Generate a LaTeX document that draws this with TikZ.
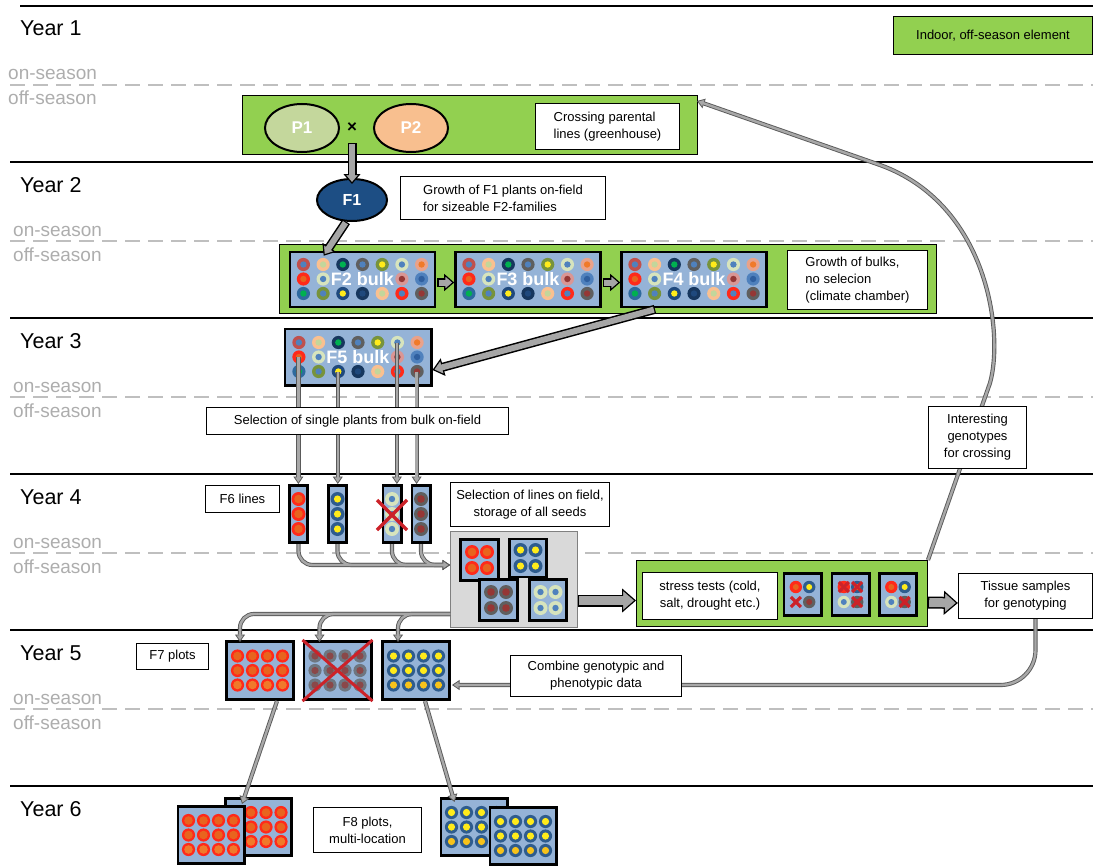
\documentclass[tikz,border=0pt]{standalone}
\usepackage{fontspec}
\setmainfont{Liberation Sans}
\usetikzlibrary{arrows.meta,calc,shapes.geometric}
\definecolor{cgreenbox}{HTML}{92D050}
\definecolor{cbluebox}{HTML}{95B3D7}
\definecolor{cdash}{HTML}{BFBFBF}
\definecolor{cseason}{HTML}{ADADAD}
\definecolor{cp1}{HTML}{C4D79C}
\definecolor{cp2}{HTML}{F8BF8F}
\definecolor{cf1}{HTML}{1D4E84}
\definecolor{cconnout}{HTML}{5A5A5A}
\definecolor{cconnin}{HTML}{A8A8A8}
\definecolor{cbarrow}{HTML}{A6A6A6}
\definecolor{cstorage}{HTML}{D9D9D9}
\definecolor{cX}{HTML}{CC2229}
\definecolor{kred}{HTML}{FF2A1A}
\definecolor{korange}{HTML}{E8641E}
\definecolor{kbrick}{HTML}{C0504D}
\definecolor{kblue}{HTML}{4F81BD}
\definecolor{kblue2}{HTML}{2F5F9F}
\definecolor{kpeach}{HTML}{FAC090}
\definecolor{klg}{HTML}{C3D69B}
\definecolor{klg2}{HTML}{D7E4BD}
\definecolor{knavy}{HTML}{17375E}
\definecolor{knavy2}{HTML}{1F497D}
\definecolor{kgreen}{HTML}{00B050}
\definecolor{kgray}{HTML}{5F5F5F}
\definecolor{kolive}{HTML}{77933C}
\definecolor{kyellow}{HTML}{FFEB1A}
\definecolor{kyellow2}{HTML}{F7C21A}
\definecolor{ksalmon}{HTML}{E9A28A}
\definecolor{korange2}{HTML}{F07A2A}
\definecolor{kpink}{HTML}{DA9694}
\definecolor{kdred}{HTML}{953735}
\definecolor{kteal}{HTML}{2F6A9E}
\definecolor{ksteel}{HTML}{2E5C8E}

\newcommand\pdot[6]{\fill[fill=#5] ({#1},{#2}) circle[radius=#3]; \fill[fill=#6] ({#1},{#2}) circle[radius=#4];}
\newcommand\bulkdots[2]{%
 \foreach \ii/\jj/\oc/\ic in {1/1/kbrick/kblue,2/1/kpeach/klg,3/1/knavy/kgreen,4/1/kgray/kblue,5/1/kolive/kyellow,6/1/klg2/kblue,7/1/ksalmon/korange2,1/2/kred/korange,2/2/klg2/kblue,6/2/kpink/kdred,7/2/kblue/kblue2,1/3/kteal/kgreen,2/3/kolive/kblue,3/3/knavy2/kyellow,4/3/knavy/knavy2,5/3/kpeach/klg,6/3/kred/kblue,7/3/kgray/kdred}
 {\pdot{#1+(\ii-4)*19.7}{#2+(\jj-2)*14.5}{6.6}{3.2}{\oc}{\ic}}%
}
\newcommand\plotdots[6]{%
 \foreach \aa in {-22.5,-7.5,7.5,22.5}{%
  \pdot{#1+(\aa)}{#2-14.5}{6.6}{#6}{#3}{#4}
  \pdot{#1+(\aa)}{#2}{6.6}{#6}{#3}{#4}
  \pdot{#1+(\aa)}{#2+14.5}{6.6}{#6}{#3}{#5}}%
}
\newcommand\twodots[5]{\foreach \aa in {-7.5,7.5}{\foreach \bb in {-8,8}{\pdot{#1+(\aa)}{#2+(\bb)}{7}{#5}{#3}{#4}}}}
\newcommand\coldots[5]{\foreach \bb in {-15,0,15}{\pdot{#1}{#2+(\bb)}{7}{#5}{#3}{#4}}}
\newcommand\smallx[2]{\draw[cX, line width=3.2pt] ({#1-5},{#2-5}) -- ({#1+5},{#2+5}) ({#1-5},{#2+5}) -- ({#1+5},{#2-5});}
\newcommand\barrow[7]{%
 \draw[line width=#1, black, shorten >=#3] (#6) -- (#7);
 \draw[line width=1.2pt, black, -{Triangle[length=#4,width=#5,fill=cbarrow]}] ($(#7)!#4!(#6)$) -- (#7);
 \draw[line width=#2, cbarrow, shorten >=#3, shorten <=1.2pt] (#6) -- (#7);
}

\begin{document}
\begin{tikzpicture}[x=1pt,y=-1pt,
  yearlbl/.style={anchor=base west, inner sep=0pt, font=\fontsize{21.5}{24}\selectfont},
  seasonlbl/.style={anchor=base west, inner sep=0pt, text=cseason, font=\fontsize{19}{22}\selectfont},
  yearline/.style={line width=2.6pt, black},
  dashline/.style={line width=2pt, cdash, dash pattern=on 15pt off 8pt},
  txt/.style={draw=black, line width=1.3pt, fill=white, inner sep=0pt, align=center, font=\fontsize{13}{17}\selectfont},
  greenbox/.style={draw=black, line width=1.3pt, fill=cgreenbox, inner sep=0pt},
  bluebox/.style={draw=black, line width=2.6pt, fill=cbluebox, inner sep=0pt},
  bulklbl/.style={text=white, font=\bfseries\fontsize{18}{20}\selectfont, inner sep=0pt},
  parent/.style={ellipse, draw=black, line width=2pt, inner sep=0pt, minimum width=74pt, minimum height=48pt, text=white, font=\bfseries\fontsize{17}{19}\selectfont},
  connO/.style={line width=4.2pt, draw=cconnout, -{Triangle[length=7.5pt,width=10pt,line width=0.8pt,fill=cconnin]}},
  connI/.style={-, line width=2.4pt, draw=cconnin, shorten >=5.5pt},
  conn/.style={connO, postaction={connI}},
  xline/.style={cX, line width=3.2pt}
]
\useasboundingbox (0,0) rectangle (1093,867);

% year structure
\draw[yearline] (20,6) -- (1093,6);
\foreach \k in {1,...,5} \draw[yearline] (10,{6+156*\k}) -- (1093,{6+156*\k});
\foreach \k in {0,...,4} \draw[dashline] (10,{85+156*\k}) -- (1093,{85+156*\k});
\foreach \k in {1,...,6} \node[yearlbl] (year\k) at (20,{36+156*(\k-1)}) {Year \k};
\foreach \k/\xs in {0/8,1/13,2/13,3/13,4/13} {
  \node[seasonlbl] (on\k) at (\xs,{80+156*\k}) {on-season};
  \node[seasonlbl] (off\k) at (\xs,{105+156*\k}) {off-season};
}

% legend
\node[greenbox, minimum width=198.7pt, minimum height=37.7pt, font=\fontsize{13}{15}\selectfont] (legend) at (993,35.5) {Indoor, off-season element};

% year 1: crossing
\node[greenbox, minimum width=454.7pt, minimum height=58.7pt] (cross) at (470,125) {};
\node[parent, fill=cp1] (p1) at (302,128) {P1};
\node[parent, fill=cp2] (p2) at (411,128) {P2};
\node[font=\bfseries\fontsize{17}{19}\selectfont, inner sep=0pt] (times) at (352,128) {×};
\node[txt, minimum width=143.7pt, minimum height=45.7pt, align=left] (crosstxt) at (607.5,126.5) {Crossing parental\\lines (greenhouse)};

% F1
\node[parent, fill=cf1, minimum width=70pt, minimum height=42pt, font=\bfseries\fontsize{16}{18}\selectfont] (f1) at (352,200) {F1};
\node[txt, minimum width=204.7pt, minimum height=42.7pt, align=left] (f1txt) at (503,198) {Growth of F1 plants on-field\\for sizeable F2-families};
\coordinate (xs) at ($(times.center)+(0,15)$);
\coordinate (f1t) at ($(f1.north)+(0,6)$);
\barrow{9pt}{6pt}{7pt}{10pt}{17pt}{xs}{f1t}

% bulks
\node[greenbox, minimum width=656.7pt, minimum height=68.7pt] (bulkbox) at (608,279) {};
\node[bluebox, minimum width=145pt, minimum height=55pt] (f2) at (362.5,279.5) {};
\bulkdots{362.5}{279}
\node[bulklbl] (f2lbl) at (f2) {F2 bulk};
\node[bluebox, minimum width=145pt, minimum height=55pt] (f3) at (528,279.5) {};
\bulkdots{528}{279}
\node[bulklbl] (f3lbl) at (f3) {F3 bulk};
\node[bluebox, minimum width=145pt, minimum height=55pt] (f4) at (694,279.5) {};
\bulkdots{694}{279}
\node[bulklbl] (f4lbl) at (f4) {F4 bulk};
\node[txt, minimum width=139.7pt, minimum height=58.7pt, align=left] (bulktxt) at (857.5,280) {Growth of bulks,\\no selecion\\(climate chamber)};
\coordinate (f1s) at (f1.255);
\coordinate (f2t) at ($(f2.north west)+(35,5)$);
\barrow{9pt}{6pt}{7pt}{10pt}{16pt}{f1s}{f2t}
\coordinate (f2r) at ($(f2.east)+(1,3)$);
\coordinate (f3l) at ($(f3.west)+(0,3)$);
\barrow{9pt}{6pt}{7pt}{10pt}{17pt}{f2r}{f3l}
\coordinate (f3r) at ($(f3.east)+(1,3)$);
\coordinate (f4l) at ($(f4.west)+(0,3)$);
\barrow{9pt}{6pt}{7pt}{10pt}{17pt}{f3r}{f4l}

% F5
\node[bluebox, minimum width=146.4pt, minimum height=56.4pt] (f5) at (358,357) {};
\bulkdots{358}{357}
\node[bulklbl] (f5lbl) at (f5) {F5 bulk};
\coordinate (f4s) at ($(f4.south)+(-39,1)$);
\coordinate (f5t) at ($(f5.east)+(0,13)$);
\barrow{9pt}{6pt}{8pt}{11pt}{18pt}{f4s}{f5t}

% F6 lines
\node[bluebox, minimum width=18.4pt, minimum height=57.4pt] (f6a) at (298.5,514) {};
\coldots{298.5}{514}{kred}{korange}{4.3}
\node[bluebox, minimum width=18.4pt, minimum height=57.4pt] (f6b) at (337.5,514) {};
\coldots{337.5}{514}{ksteel}{kyellow}{3.6}
\node[bluebox, minimum width=18.4pt, minimum height=57.4pt] (f6c) at (392,514) {};
\coldots{392}{514}{klg2}{kblue}{3.2}
\draw[xline] (377,500) -- (407,530) (407,500) -- (377,530);
\node[bluebox, minimum width=18.4pt, minimum height=57.4pt] (f6d) at (421,514) {};
\coldots{421}{514}{kgray}{kdred}{3.8}

\coordinate (s1) at (298.4,357);
\coordinate (s2) at (337.8,371.5);
\coordinate (s3) at (396.9,342.5);
\coordinate (s4) at (416.6,371.5);
\draw[conn] (s1) -- (s1 |- f6a.north);
\draw[conn] (s2) -- (s2 |- f6b.north);
\draw[conn] (s3) -- (s3 |- f6c.north);
\draw[conn] (s4) -- (s4 |- f6d.north);
\node[txt, minimum width=301.7pt, minimum height=26.7pt] (seltxt) at (357.5,421) {Selection of single plants from bulk on-field};
\node[txt, minimum width=73.7pt, minimum height=26.7pt] (f6txt) at (242.5,499) {F6 lines};
\node[txt, minimum width=158.7pt, minimum height=43.7pt] (sel2txt) at (530,504.5) {Selection of lines on field,\\storage of all seeds};

% storage
\node[draw=gray, line width=1pt, fill=cstorage, minimum width=127pt, minimum height=96pt, inner sep=0pt] (storage) at (514,579.5) {};
\node[bluebox, minimum width=37.5pt, minimum height=40.5pt] (sa) at (479.5,560) {};
\twodots{479.5}{560}{kred}{korange}{4.3}
\node[bluebox, minimum width=37.5pt, minimum height=38pt] (sb) at (528,558) {};
\twodots{528}{558}{ksteel}{kyellow}{3.6}
\node[bluebox, minimum width=37.5pt, minimum height=40.5pt] (sc) at (498.5,600) {};
\twodots{498.5}{600}{kgray}{kdred}{3.8}
\node[bluebox, minimum width=37.5pt, minimum height=40.5pt] (sd) at (548,600) {};
\twodots{548}{600}{klg2}{kblue}{3.2}

\coordinate (stin) at ($(storage.west)+(0,-14.5)$);
\foreach \bx in {f6a,f6b,f6c,f6d} \draw[connO, rounded corners=14pt] (\bx.south) |- (stin);
\foreach \bx in {f6a,f6b,f6c,f6d} \draw[connI, rounded corners=14pt] (\bx.south) |- (stin);

% stress tests
\node[greenbox, minimum width=290.7pt, minimum height=65.7pt] (stress) at (782,593.5) {};
\node[txt, minimum width=134.7pt, minimum height=46.7pt] (stresstxt) at (710,596) {stress tests (cold,\\salt, drought etc.)};
\node[bluebox, minimum width=37.4pt, minimum height=42.4pt] (ma) at (802.5,594.5) {};
\pdot{795.8}{587}{6.2}{3}{kred}{korange}
\pdot{809.2}{587}{6.2}{3}{ksteel}{kyellow}
\smallx{795.8}{602}
\pdot{809.2}{602}{6.2}{3}{kgray}{kdred}
\node[bluebox, minimum width=37.4pt, minimum height=42.4pt] (mb) at (850.5,594.5) {};
\pdot{843.8}{587}{6.2}{3}{kred}{korange}
\smallx{843.8}{587}
\pdot{857.2}{587}{6.2}{3}{ksteel}{kyellow}
\smallx{857.2}{587}
\pdot{843.8}{602}{6.2}{3}{klg2}{kblue}
\pdot{857.2}{602}{6.2}{3}{kgray}{kdred}
\smallx{857.2}{602}
\node[bluebox, minimum width=37.4pt, minimum height=42.4pt] (mc) at (898,594.5) {};
\pdot{891.3}{587}{6.2}{3}{kred}{korange}
\pdot{904.7}{587}{6.2}{3}{ksteel}{kyellow}
\pdot{891.3}{602}{6.2}{3}{klg2}{kblue}
\pdot{904.7}{602}{6.2}{3}{kgray}{kdred}
\smallx{904.7}{602}
\node[txt, minimum width=134pt, minimum height=44.7pt] (tissue) at (1025.5,596) {Tissue samples\\for genotyping};
\coordinate (sto) at ($(storage.east)+(0,21)$);
\coordinate (sti) at ($(stress.west)+(0,7)$);
\barrow{12pt}{9pt}{10pt}{14pt}{24pt}{sto}{sti}
\coordinate (stro) at ($(stress.east)+(0,9)$);
\coordinate (tisi) at ($(tissue.west)+(0,7)$);
\barrow{12pt}{9pt}{10pt}{14pt}{24pt}{stro}{tisi}

% F7 plots
\node[bluebox, minimum width=67.4pt, minimum height=58.4pt] (f7a) at (260,670.5) {};
\plotdots{260}{670.5}{kred}{korange}{korange2}{4.3}
\node[bluebox, minimum width=67.4pt, minimum height=58.4pt] (f7b) at (337.5,670.5) {};
\begin{scope}[opacity=0.72]
\plotdots{337.5}{670.5}{kgray}{kdred}{kdred}{3.6}
\end{scope}
\draw[xline, line width=3pt] (f7b.north west) -- (f7b.south east) (f7b.north east) -- (f7b.south west);
\node[bluebox, minimum width=67.4pt, minimum height=58.4pt] (f7c) at (416,670.5) {};
\plotdots{416}{670.5}{ksteel}{kyellow}{kyellow2}{3.6}
\node[txt, minimum width=71.7pt, minimum height=25.7pt] (f7txt) at (172.5,656.5) {F7 plots};

\coordinate (stout) at ($(storage.west)+(0,34.5)$);
\coordinate (t1) at ($(f7a.north)+(-20,2)$);
\coordinate (t2) at ($(f7b.north)+(-18,2)$);
\coordinate (t3) at ($(f7c.north)+(-18,2)$);
\foreach \tt in {t1,t2,t3} \draw[connO, rounded corners=14pt] (stout) -| (\tt);
\foreach \tt in {t1,t2,t3} \draw[connI, rounded corners=14pt] (stout) -| (\tt);

% genotyping feedback
\coordinate (ta) at ($(tissue.south)+(10,0)$);
\coordinate (tb) at ($(f7c.east)+(1,14.5)$);
\draw[conn, rounded corners=35pt] (ta) |- (tb);
\node[txt, minimum width=170.7pt, minimum height=40.7pt] (combine) at (596,676) {Combine genotypic and\\phenotypic data};

\coordinate (ia) at (990,383);
\coordinate (ib) at (880,165);
\coordinate (ic) at ($(cross.north east)+(-1,6)$);
\draw[conn] (stress.north east) -- (ia) .. controls (1004,333) and (988,204) .. (ib) -- (ic);
\node[txt, minimum width=97.7pt, minimum height=61.7pt] (interest) at (977.5,437.5) {Interesting\\genotypes\\for crossing};

% F8 plots
\node[bluebox, minimum width=66.4pt, minimum height=57.4pt] (f8a) at (258.5,827) {};
\plotdots{258.5}{827}{kred}{korange}{korange2}{4.3}
\node[bluebox, minimum width=66.4pt, minimum height=57.4pt] (f8b) at (211,835) {};
\plotdots{211}{835}{kred}{korange}{korange2}{4.3}
\node[bluebox, minimum width=66.4pt, minimum height=57.4pt] (f8c) at (474,827) {};
\plotdots{474}{827}{ksteel}{kyellow}{kyellow2}{3.6}
\node[bluebox, minimum width=66.4pt, minimum height=57.4pt] (f8d) at (523,836) {};
\plotdots{523}{836}{ksteel}{kyellow}{kyellow2}{3.6}
\node[txt, minimum width=107.7pt, minimum height=44.7pt] (f8txt) at (367.5,830) {F8 plots,\\multi-location};
\coordinate (u1) at ($(f7a.south)+(17,0)$);
\coordinate (v1) at ($(f8a.north west)+(18,7)$);
\draw[conn] (u1) -- (v1);
\coordinate (u2) at ($(f7c.south)+(9,0)$);
\coordinate (v2) at ($(f8c.north west)+(15,5)$);
\draw[conn] (u2) -- (v2);
\end{tikzpicture}
\end{document}
